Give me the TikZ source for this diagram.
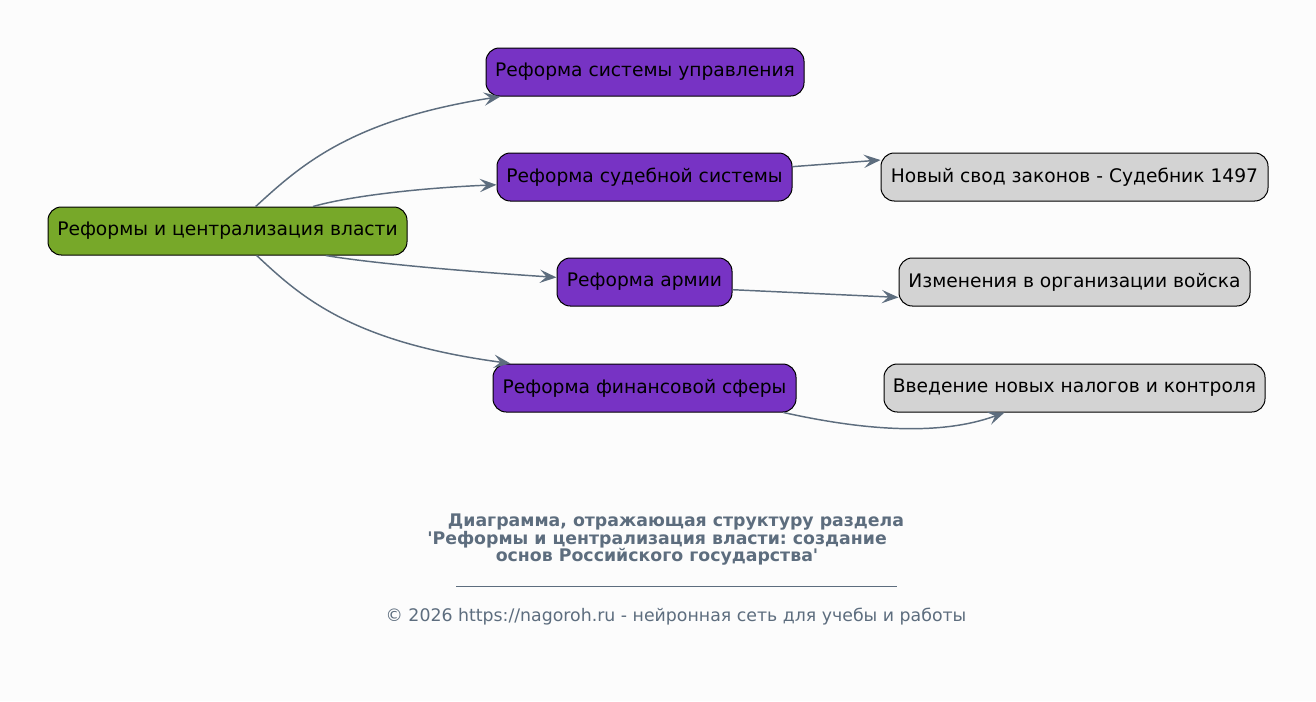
\documentclass[tikz,border=0pt]{standalone}
\usepackage{fontspec}
\setmainfont{DejaVu Sans}
\usetikzlibrary{arrows.meta,calc}
\definecolor{bgcol}{HTML}{FCFCFC}
\definecolor{rootgreen}{HTML}{77A829}
\definecolor{branchpurple}{HTML}{7733C4}
\definecolor{leafgray}{HTML}{D3D3D3}
\definecolor{slate}{HTML}{5D6D7E}
\frenchspacing
\begin{document}
\begin{tikzpicture}[x=0.75pt,y=-0.75pt,
  box/.style={draw=black, line width=0.75pt, rounded corners=10pt, minimum height=36pt,
    inner sep=0pt, text=black, font=\fontsize{14}{17}\selectfont},
  rootbox/.style={box, fill=rootgreen},
  branchbox/.style={box, fill=branchpurple},
  leafbox/.style={box, fill=leafgray},
  edge/.style={draw=slate, line width=1.1pt, -{Stealth[length=12.5pt, width=10pt, inset=5pt]}},
  titletext/.style={text=slate, font=\fontsize{13}{15}\selectfont\bfseries, inner sep=0pt},
  foottext/.style={text=slate, font=\fontsize{13}{15}\selectfont, inner sep=0pt}]
\fill[bgcol] (0,0) rectangle (1316,701);
\useasboundingbox (0,0) rectangle (1316,701);

\node[rootbox, minimum width=269.25pt] (root) at (227.5,231) {Реформы и централизация власти};
\node[branchbox, minimum width=238.5pt] (p1) at (645,72) {Реформа системы управления};
\node[branchbox, minimum width=221.25pt] (p2) at (644.5,177) {Реформа судебной системы};
\node[branchbox, minimum width=131.25pt] (p3) at (644.5,282) {Реформа армии};
\node[branchbox, minimum width=227.25pt] (p4) at (644.5,388) {Реформа финансовой сферы};
\node[leafbox, minimum width=290.25pt] (g1) at (1074.5,177) {Новый свод законов - Судебник 1497};
\node[leafbox, minimum width=263.25pt] (g2) at (1074.5,282) {Изменения в организации войска};
\node[leafbox, minimum width=285.75pt] (g3) at (1074.5,388) {Введение новых налогов и контроля};

\draw[edge] (root.41) .. controls (300,166) and (350,120) .. ($(p1.south west)+(15,0)$);
\draw[edge] (root.16) .. controls (350,196) and (420,188) .. (p2.183);
\draw[edge] (root.-14) .. controls (370,263) and (460,271) .. (p3.177);
\draw[edge] (root.-40) .. controls (300,296) and (350,342) .. ($(p4.north west)+(18,0)$);
\draw[edge] (p2.4) -- (g1.175);
\draw[edge] (p3.-5) -- (g2.185);
\draw[edge] (p4.-10) .. controls (840,425) and (930,440) .. ($(g3.south west)+(121,0)$);

\node[titletext] (t1) at (676,522) {Диаграмма, отражающая структуру раздела};
\node[titletext] (t2) at (657,540) {\textquotesingle Реформы и централизация власти: создание};
\node[titletext] (t3) at (657,557) {основ Российского государства\textquotesingle};
\coordinate (ruleL) at (456,586);
\coordinate (ruleR) at (897,586);
\draw[slate, line width=0.75pt] (ruleL) -- (ruleR);
\node[foottext] (foot) at (676,617) {© 2026 https://nagoroh.ru - нейронная сеть для учебы и работы};
\end{tikzpicture}
\end{document}
